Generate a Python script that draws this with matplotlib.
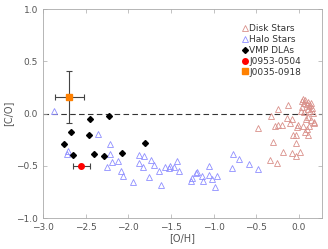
import matplotlib
matplotlib.use('Agg')
import matplotlib.pyplot as plt
from matplotlib.lines import Line2D

# halo stars [O/H], [C/O]
halo_oh = [-2.87, -2.71, -2.72, -2.36, -2.21, -2.21, -2.19, -2.25, -2.12, -2.09, -2.06,
           -1.94, -1.87, -1.82, -1.88, -1.83, -1.76, -1.74, -1.70, -1.64, -1.62,
           -1.57, -1.52, -1.47, -1.43, -1.41, -1.51, -1.27, -1.25, -1.21, -1.19,
           -1.14, -1.12, -1.06, -1.05, -1.02, -0.99, -0.96, -0.77, -0.70, -0.59,
           -0.48, -0.78]
halo_co = [0.03, -0.36, -0.39, -0.195, -0.29, -0.39, -0.46, -0.51, -0.45, -0.55, -0.60,
           -0.65, -0.40, -0.41, -0.47, -0.51, -0.61, -0.44, -0.49, -0.55, -0.68,
           -0.51, -0.52, -0.51, -0.45, -0.55, -0.50, -0.64, -0.62, -0.57, -0.56,
           -0.60, -0.64, -0.50, -0.59, -0.63, -0.70, -0.60, -0.39, -0.43, -0.48,
           -0.53, -0.52]

# disk stars
disk_oh = [-0.485, -0.33, -0.25, -0.31, -0.34, -0.26, -0.28, -0.25, -0.20, -0.19,
           -0.13, -0.14, -0.11, -0.08, -0.075, -0.04, -0.03, -0.08, -0.04, -0.01,
           0.03, 0.05, 0.06, 0.07, 0.04, 0.09, 0.11, 0.12, 0.14, 0.15,
           0.02, 0.06, 0.10, 0.13, 0.16, 0.08, 0.11, 0.14, 0.18, 0.05,
           0.09, 0.12, 0.17, 0.07, 0.10, -0.02, 0.01, 0.13]
disk_co = [-0.14, -0.02, 0.04, -0.27, -0.44, -0.47, -0.12, -0.11, -0.11, -0.37,
           0.085, -0.04, -0.09, -0.05, -0.20, -0.28, -0.20, -0.38, -0.41, -0.11,
           0.12, 0.14, 0.10, 0.13, 0.06, 0.09, 0.11, 0.07, 0.10, 0.05,
           0.03, 0.02, 0.04, 0.03, 0.01, -0.05, -0.03, -0.06, -0.08, -0.12,
           -0.15, -0.12, -0.09, -0.18, -0.20, -0.13, -0.37, 0.08]

# VMP DLAs
dla_oh = [-2.75, -2.67, -2.65, -2.45, -2.46, -2.40, -2.29, -2.23, -2.07, -1.81]
dla_co = [-0.295, -0.18, -0.40, -0.05, -0.205, -0.39, -0.41, -0.025, -0.375, -0.285]

# individual systems
j0953_oh, j0953_co, j0953_xerr = -2.55, -0.50, 0.10
j0035_oh, j0035_co, j0035_xerr, j0035_yerr = -2.69, 0.16, 0.17, 0.25

fig = plt.figure(figsize=(3.28, 2.49), dpi=100)
ax = fig.add_axes([0.131, 0.124, 0.851, 0.839])

grey = '#555555'
ax.axhline(0, color='#333333', ls=(0, (5, 3)), lw=0.8, zorder=1)

ax.plot(disk_oh, disk_co, ls='none', marker='^', mfc='none', mec='#D9908A',
        ms=4.5, mew=0.6)
ax.plot(halo_oh, halo_co, ls='none', marker='^', mfc='none', mec='#8F8FFF',
        ms=4.5, mew=0.6)
ax.plot(dla_oh, dla_co, ls='none', marker='D', color='black', ms=3)
ax.errorbar(j0953_oh, j0953_co, xerr=j0953_xerr, fmt='o', color='red', ms=4,
            ecolor='#444444', elinewidth=0.8, capsize=2, capthick=0.8, zorder=3)
ax.errorbar(j0035_oh, j0035_co, xerr=j0035_xerr, yerr=j0035_yerr, fmt='s', color='#FF8000',
            ms=4, ecolor='#444444', elinewidth=0.8, capsize=2, capthick=0.8, zorder=3)

handles = [
    Line2D([], [], ls='none', marker='^', mfc='none', mec='#D9908A', ms=4.5, mew=0.6),
    Line2D([], [], ls='none', marker='^', mfc='none', mec='#8F8FFF', ms=4.5, mew=0.6),
    Line2D([], [], ls='none', marker='D', color='black', ms=3),
    Line2D([], [], ls='none', marker='o', color='red', ms=4),
    Line2D([], [], ls='none', marker='s', color='#FF8000', ms=4),
]
labels = ['Disk Stars', 'Halo Stars', 'VMP DLAs', 'J0953-0504', 'J0035-0918']

ax.set_xlim(-3.0, 0.27)
ax.set_ylim(-1.0, 1.0)
ax.set_xticks([-3.0, -2.5, -2.0, -1.5, -1.0, -0.5, 0.0])
ax.set_yticks([-1.0, -0.5, 0.0, 0.5, 1.0])
ax.set_xticklabels(['\u22123.0', '\u22122.5', '\u22122.0', '\u22121.5', '\u22121.0', '\u22120.5', '0.0'])
ax.set_yticklabels(['\u22121.0', '\u22120.5', '0.0', '0.5', '1.0'])
ax.tick_params(direction='in', length=3, width=0.5, color='#aaaaaa', labelsize=6.5,
               labelcolor=grey, top=True, right=True)
for s in ax.spines.values():
    s.set_color('#aaaaaa')
    s.set_linewidth(0.6)
ax.set_xlabel('[O/H]', fontsize=7, color=grey, labelpad=1)
ax.set_ylabel('[C/O]', fontsize=7, color=grey, labelpad=2)

leg = ax.legend(handles, labels, loc='upper left', bbox_to_anchor=(0.70, 0.945),
                frameon=False, fontsize=6.5, handlelength=0.6, handletextpad=0.2,
                labelspacing=0.2, borderaxespad=0, numpoints=1)
for t in leg.get_texts():
    t.set_color('#333333')

fig.savefig('out.png', dpi=100)
